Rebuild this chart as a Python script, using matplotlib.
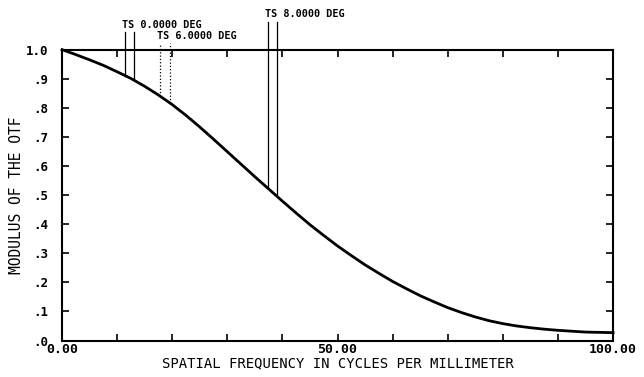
import matplotlib.pyplot as plt
import numpy as np

plt.rcParams["font.family"] = "DejaVu Sans Mono"

# MTF curve
freq = [0, 2.5, 5, 7.5, 10, 12.5, 15, 17.5, 20, 22.5, 25, 27.5, 30, 32.5, 35, 37.5,
        40, 42.5, 45, 47.5, 50, 52.5, 55, 57.5, 60, 62.5, 65, 67.5, 70, 72.5, 75,
        77.5, 80, 82.5, 85, 87.5, 90, 92.5, 95, 97.5, 100]
mtf = [1.0, 0.983, 0.965, 0.946, 0.924, 0.901, 0.874, 0.844, 0.811, 0.774, 0.734,
       0.692, 0.649, 0.606, 0.563, 0.521, 0.479, 0.438, 0.398, 0.361, 0.325, 0.292,
       0.260, 0.231, 0.203, 0.178, 0.154, 0.133, 0.113, 0.096, 0.081, 0.068, 0.058,
       0.050, 0.044, 0.039, 0.035, 0.032, 0.029, 0.028, 0.027]

# field-angle markers (T and S lines)
marker_labels = ["TS 0.0000 DEG", "TS 6.0000 DEG", "TS 8.0000 DEG"]
marker_x = [(11.4, 13.0), (17.8, 19.6), (37.4, 39.0)]
marker_top = [1.062, 1.024, 1.096]
label_y = [1.086, 1.048, 1.124]
marker_style = ["-", ":", "-"]

fig = plt.figure(figsize=(6.44, 3.77), dpi=100)
ax = fig.add_axes([0.0963, 0.0968, 0.8557, 0.7715])

ax.plot(freq, mtf, color="black", lw=2.0, clip_on=False)

for lab, xs, top, ly, ls in zip(marker_labels, marker_x, marker_top, label_y, marker_style):
    for xv in xs:
        y0 = np.interp(xv, freq, mtf)
        ax.plot([xv, xv], [y0, top], color="black", lw=0.9, ls=ls, clip_on=False)
    ax.text(xs[0] - 0.6, ly, lab, fontsize=7.3, fontweight="bold",
            ha="left", va="center", clip_on=False)

ax.set_xlim(0, 100)
ax.set_ylim(0, 1.0)
ax.set_xticks(np.arange(0, 101, 10))
ax.set_xticklabels(["0.00", "", "", "", "", "50.00", "", "", "", "", "100.00"],
                   fontsize=9.5, fontweight="bold")
ax.set_yticks(np.arange(0, 1.01, 0.1))
ax.set_yticklabels([".0", ".1", ".2", ".3", ".4", ".5", ".6", ".7", ".8", ".9", "1.0"],
                   fontsize=9, fontweight="bold")
ax.tick_params(direction="in", length=5, width=1.2, top=True, right=True,
               labeltop=False, labelright=False)
ax.tick_params(axis="y", pad=10)
ax.tick_params(axis="x", pad=2)

for s in ax.spines.values():
    s.set_linewidth(1.5)

ax.set_xlabel("SPATIAL FREQUENCY IN CYCLES PER MILLIMETER", fontsize=10, labelpad=0)
ax.set_ylabel("MODULUS OF THE OTF", fontsize=10.5, labelpad=1)

fig.savefig("out.png", dpi=100)
